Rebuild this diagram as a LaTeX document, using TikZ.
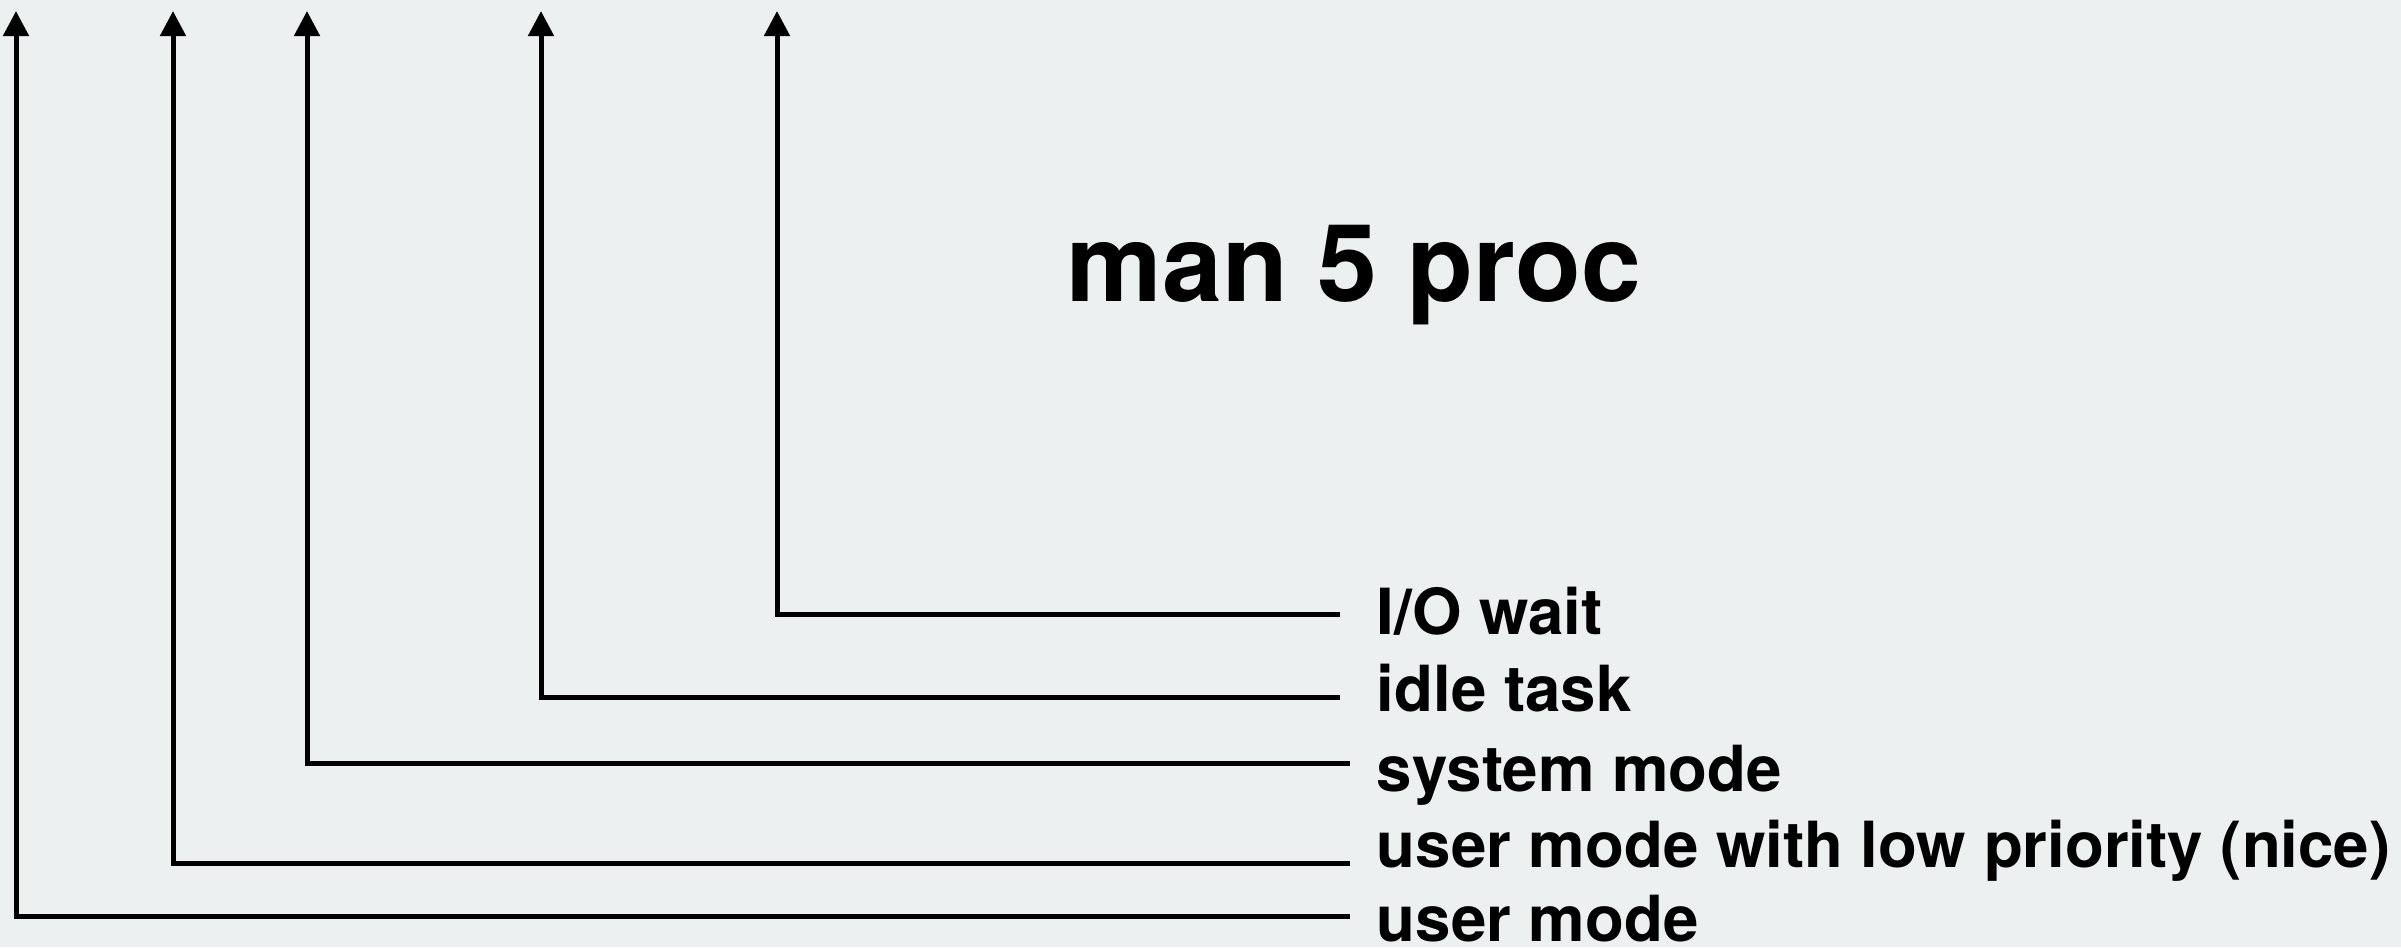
\documentclass[tikz,border=0pt]{standalone}
\usepackage{fontspec}
\setmainfont{TeX Gyre Heros}
\usetikzlibrary{arrows.meta}
\definecolor{bgc}{RGB}{236,240,241}
\begin{document}
\begin{tikzpicture}[x=0.25pt,y=-0.25pt,
  conn/.style={line width=1.25pt,-{Triangle[length=6.3pt,width=6.3pt]}},
  lbl/.style={anchor=base west,inner sep=0pt,font=\fontsize{15.9pt}{18pt}\selectfont\bfseries},
  ttl/.style={anchor=base west,inner sep=0pt,font=\fontsize{26.9pt}{30pt}\selectfont\bfseries}]
\fill[bgc] (0,0) rectangle (2401,947);
\useasboundingbox (0,0) rectangle (2401,947);
% title
\node[ttl] (title) at (1066,301) {man 5 proc};
% labels
\node[lbl] (io) at (1376,634) {I/O wait};
\node[lbl] (idle) at (1376,711) {idle task};
\node[lbl] (sys) at (1376,791) {system mode};
\node[lbl] (nice) at (1376,867) {user mode with low priority (nice)};
\node[lbl] (user) at (1376,941) {user mode};
% line ends next to labels
\coordinate (eio) at (1340,614);
\coordinate (eidle) at (1340,697);
\coordinate (esys) at (1350,763);
\coordinate (enice) at (1350,863);
\coordinate (euser) at (1350,916);
% arrow tips at top
\coordinate (tio) at (777,11);
\coordinate (tidle) at (541,11);
\coordinate (tsys) at (307,11);
\coordinate (tnice) at (173,11);
\coordinate (tuser) at (16,11);
% connectors
\draw[conn] (eio) -| (tio);
\draw[conn] (eidle) -| (tidle);
\draw[conn] (esys) -| (tsys);
\draw[conn] (enice) -| (tnice);
\draw[conn] (euser) -| (tuser);
\end{tikzpicture}
\end{document}
